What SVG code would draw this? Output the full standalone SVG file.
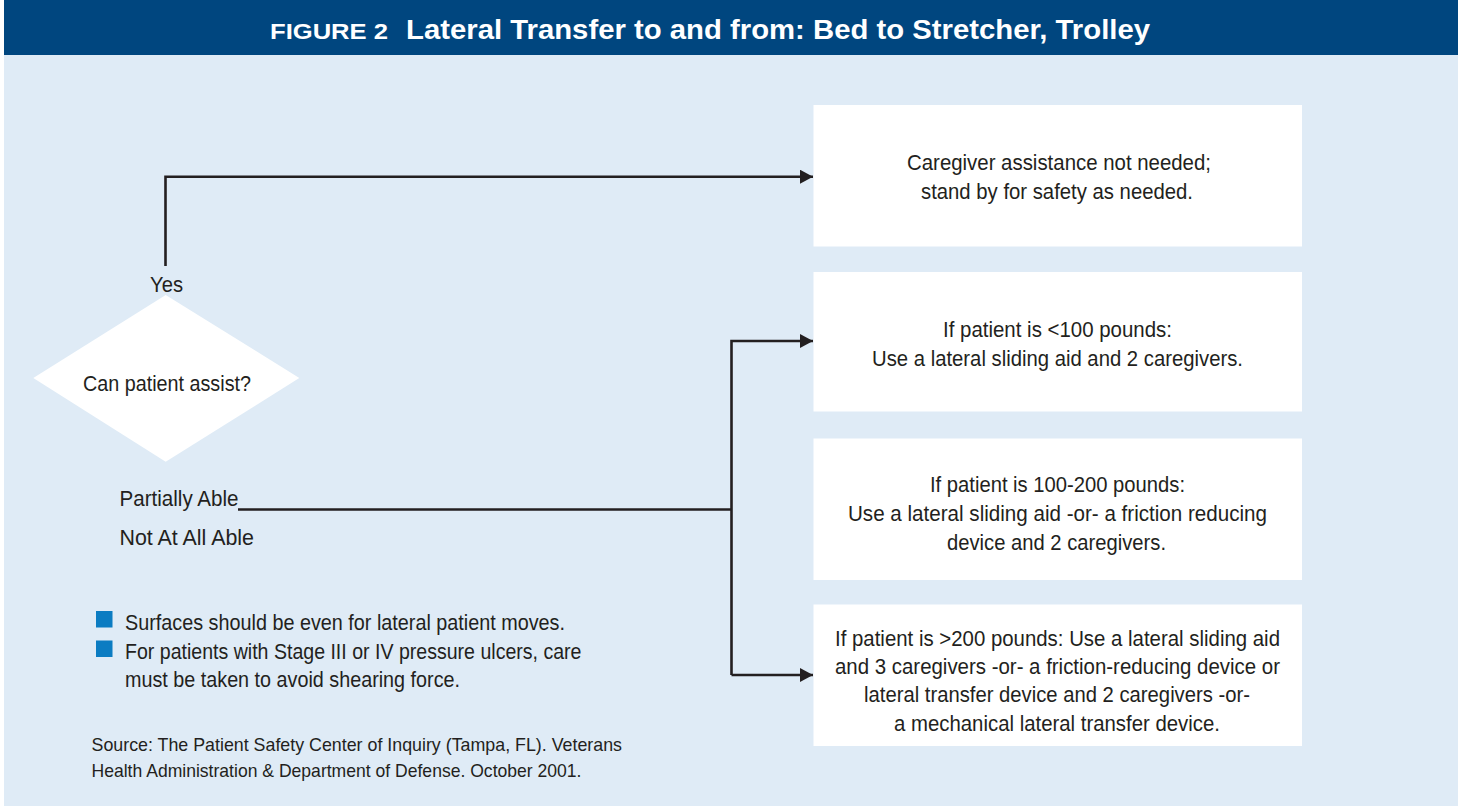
<svg xmlns="http://www.w3.org/2000/svg" width="1458" height="808" viewBox="0 0 1458 808">
<style>
.t{font-family:"Liberation Sans",Arial,sans-serif;fill:#231F20;font-size:22.5px}
.s{font-size:19px}
.h{font-family:"Liberation Sans",Arial,sans-serif;fill:#FFFFFF;font-weight:bold}
.box{fill:#FFFFFF}
.ln{fill:none;stroke:#231F20;stroke-width:2.6}
.bul{fill:#0B7CC2}
</style>
<defs>
<marker id="ah" markerUnits="userSpaceOnUse" markerWidth="14" markerHeight="16" refX="13" refY="7" orient="auto">
<path d="M0 0 L13 7 L0 14 Z" fill="#231F20"/>
</marker>
</defs>
<rect x="0" y="0" width="1458" height="808" fill="#FFFFFF"/>
<rect x="4" y="55" width="1454" height="751" fill="#DFEBF6"/>
<g id="header">
<rect x="4" y="0" width="1454" height="55" fill="#00467F"/>
<text class="h" x="270" y="38.5" font-size="22" textLength="118" lengthAdjust="spacingAndGlyphs">FIGURE 2</text>
<text class="h" x="406" y="38.5" font-size="28" textLength="744" lengthAdjust="spacingAndGlyphs">Lateral Transfer to and from: Bed to Stretcher, Trolley</text>
</g>
<g id="connectors">
<path class="ln" d="M165.5 266 V176.7 H813" marker-end="url(#ah)"/>
<path class="ln" d="M238 509.5 H731.5"/>
<path class="ln" d="M731.5 675 V341 H813" marker-end="url(#ah)"/>
<path class="ln" d="M731.5 675 H813" marker-end="url(#ah)"/>
</g>
<g id="decision">
<polygon points="165.7,295 299.3,378 165.7,461.7 33.3,378" fill="#FFFFFF"/>
<text class="t" x="83" y="390.5" font-size="23.5" textLength="168" lengthAdjust="spacingAndGlyphs">Can patient assist?</text>
</g>
<g id="label-yes">
<text class="t" x="150" y="291.5" textLength="33" lengthAdjust="spacingAndGlyphs">Yes</text>
</g>
<g id="label-partial">
<text class="t" x="119.5" y="505.5" textLength="119" lengthAdjust="spacingAndGlyphs">Partially Able</text>
</g>
<g id="label-notatall">
<text class="t" x="119.5" y="545" textLength="134.5" lengthAdjust="spacingAndGlyphs">Not At All Able</text>
</g>
<g id="box1">
<rect class="box" x="813.5" y="105" width="488.5" height="141.5"/>
<text class="t" x="907" y="169.5" textLength="304" lengthAdjust="spacingAndGlyphs">Caregiver assistance not needed;</text>
<text class="t" x="921" y="198.5" textLength="272" lengthAdjust="spacingAndGlyphs">stand by for safety as needed.</text>
</g>
<g id="box2">
<rect class="box" x="813.5" y="272" width="488.5" height="139.5"/>
<text class="t" x="943" y="336.7" textLength="229" lengthAdjust="spacingAndGlyphs">If patient is &lt;100 pounds:</text>
<text class="t" x="872" y="365.5" textLength="371" lengthAdjust="spacingAndGlyphs">Use a lateral sliding aid and 2 caregivers.</text>
</g>
<g id="box3">
<rect class="box" x="813.5" y="438.5" width="488.5" height="141.5"/>
<text class="t" x="930" y="491.5" textLength="255" lengthAdjust="spacingAndGlyphs">If patient is 100-200 pounds:</text>
<text class="t" x="848" y="520.5" textLength="419" lengthAdjust="spacingAndGlyphs">Use a lateral sliding aid -or- a friction reducing</text>
<text class="t" x="947" y="549.5" textLength="219" lengthAdjust="spacingAndGlyphs">device and 2 caregivers.</text>
</g>
<g id="box4">
<rect class="box" x="813.5" y="604.5" width="488.5" height="141.5"/>
<text class="t" x="835" y="645.5" textLength="445" lengthAdjust="spacingAndGlyphs">If patient is &gt;200 pounds: Use a lateral sliding aid</text>
<text class="t" x="835" y="673.5" textLength="445" lengthAdjust="spacingAndGlyphs">and 3 caregivers -or- a friction-reducing device or</text>
<text class="t" x="864" y="701.5" textLength="386" lengthAdjust="spacingAndGlyphs">lateral transfer device and 2 caregivers -or-</text>
<text class="t" x="894" y="730.5" textLength="326" lengthAdjust="spacingAndGlyphs">a mechanical lateral transfer device.</text>
</g>
<g id="notes">
<rect class="bul" x="96" y="611" width="16.5" height="16.5"/>
<rect class="bul" x="96" y="640.5" width="16.5" height="16.5"/>
<text class="t" x="125" y="630" textLength="440" lengthAdjust="spacingAndGlyphs">Surfaces should be even for lateral patient moves.</text>
<text class="t" x="125" y="659" textLength="456.5" lengthAdjust="spacingAndGlyphs">For patients with Stage III or IV pressure ulcers, care</text>
<text class="t" x="125" y="686.5" textLength="335" lengthAdjust="spacingAndGlyphs">must be taken to avoid shearing force.</text>
</g>
<g id="source">
<text class="t s" x="91.5" y="750.5" textLength="530.5" lengthAdjust="spacingAndGlyphs">Source: The Patient Safety Center of Inquiry (Tampa, FL). Veterans</text>
<text class="t s" x="91.5" y="776.5" textLength="490" lengthAdjust="spacingAndGlyphs">Health Administration &amp; Department of Defense. October 2001.</text>
</g>
</svg>
